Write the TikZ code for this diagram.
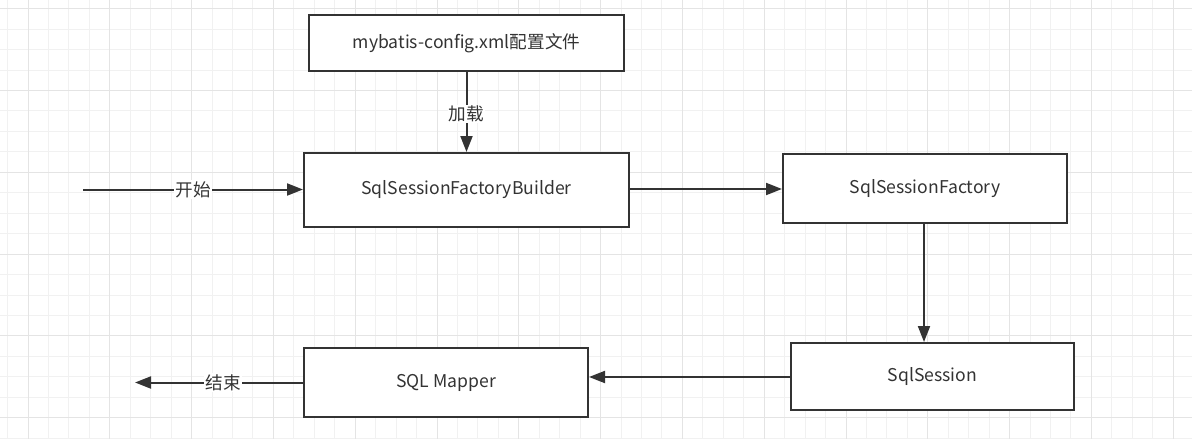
\documentclass[tikz,border=0pt]{standalone}
\usepackage{fontspec}
\setmainfont{Noto Sans CJK SC}
\usetikzlibrary{arrows.meta}
\definecolor{ink}{HTML}{333333}
\definecolor{minorgrid}{HTML}{F1F1F1}
\definecolor{majorgrid}{HTML}{E4E4E4}
\tikzset{
  box/.style={draw=ink, line width=2pt, fill=white, text=ink, inner sep=0pt,
    font=\fontsize{17.6}{20}\selectfont},
  flow/.style={draw=ink, line width=2pt, -{Triangle[length=16pt,width=12pt]}},
  tag/.style={fill=white, text=ink, inner sep=1pt, font=\fontsize{17.6}{20}\selectfont}
}
\begin{document}
\begin{tikzpicture}[x=1pt, y=-1pt]
  \useasboundingbox (0,0) rectangle (1192,439);
  % grid paper
  \foreach \i in {-1,...,58}
    \draw[minorgrid, line width=1pt] (28+\i*20.45,0) -- (28+\i*20.45,439);
  \foreach \i in {-1,...,21}
    \draw[minorgrid, line width=1pt] (0,8.7+\i*20.45) -- (1192,8.7+\i*20.45);
  \foreach \i in {0,...,14}
    \draw[majorgrid, line width=1pt] (28+\i*81.8,0) -- (28+\i*81.8,439);
  \foreach \i in {0,...,5}
    \draw[majorgrid, line width=1pt] (0,8.7+\i*81.8) -- (1192,8.7+\i*81.8);

  \node[box, minimum width=315pt, minimum height=56pt] (config) at (466.5,43)
    {mybatis-config.xml配置文件};
  \node[box, minimum width=325pt, minimum height=74pt] (builder) at (466.5,190)
    {SqlSessionFactoryBuilder};
  \node[box, minimum width=284pt, minimum height=69pt] (factory) at (925,188.5)
    {SqlSessionFactory};
  \node[box, minimum width=283pt, minimum height=67pt] (session) at (932.5,376.5)
    {SqlSession};
  \node[box, minimum width=284pt, minimum height=69pt] (mapper) at (446,382.5)
    {SQL Mapper};
  \coordinate (start) at (83,189.5);
  \coordinate (stop) at (135,382.5);

  \draw[flow] (start) -- node[tag] {开始} (builder.west |- start);
  \draw[flow] (config) -- node[tag, yshift=-2pt] {加载} (builder);
  \draw[flow] (builder.east |- 0,189) -- (factory.west |- 0,189);
  \draw[flow] (factory.south -| 924,0) -- (session.north -| 924,0);
  \draw[flow] (session.west |- 0,377) -- (mapper.east |- 0,377);
  \draw[flow] (mapper.west) -- node[tag, xshift=4pt] {结束} (stop);
\end{tikzpicture}
\end{document}
